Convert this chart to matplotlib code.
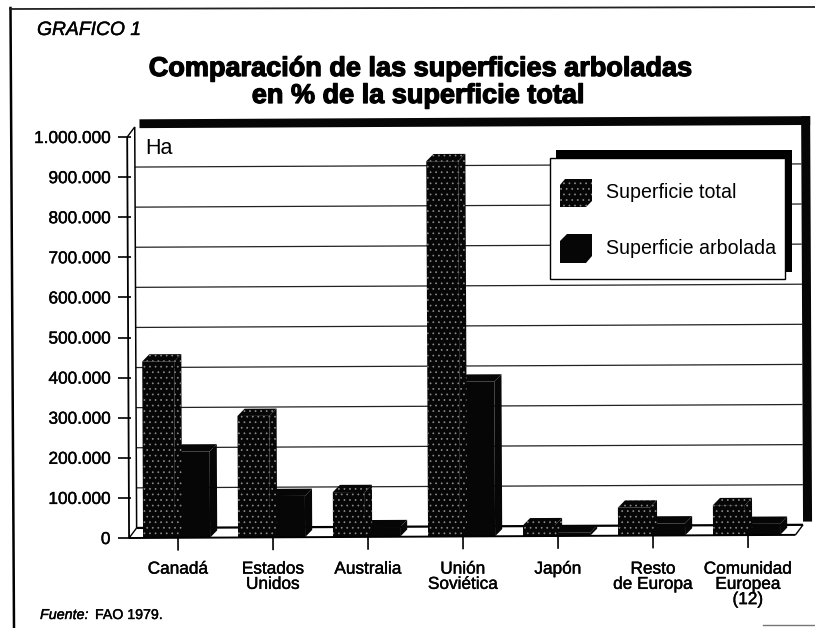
#!/usr/bin/env python3
"""Grafico 1: superficie total y arbolada por region (FAO 1979), barras con falso 3D."""

import matplotlib
matplotlib.use("Agg")
import matplotlib.pyplot as plt
import matplotlib.patheffects as pe
from matplotlib.lines import Line2D
from matplotlib.patches import Polygon, Rectangle
from matplotlib.transforms import Affine2D

plt.rcParams["font.family"] = ["Liberation Sans", "DejaVu Sans"]
plt.rcParams["hatch.linewidth"] = 0.5

categories = ["Canadá", "Estados\nUnidos", "Australia", "Unión\nSoviética",
              "Japón", "Resto\nde Europa", "Comunidad\nEuropea\n(12)"]
total = [440000, 303000, 112000, 936000, 27000, 70000, 75000]
arbolada = [215000, 103000, 24000, 386000, 8000, 30000, 28000]
y_ticks = [0, 100000, 200000, 300000, 400000, 500000,
           600000, 700000, 800000, 900000, 1000000]
y_labels = ["0", "100.000", "200.000", "300.000", "400.000", "500.000",
            "600.000", "700.000", "800.000", "900.000", "1.000.000"]

W, H = 815, 628
fig = plt.figure(figsize=(W / 100, H / 100), dpi=100, facecolor="white")
# pixel coords of the scan, origin top left
px = Affine2D().scale(1 / W, -1 / H).translate(0, 1) + fig.transFigure

ax = fig.add_axes([130.5 / W, (H - 538) / H, 665 / W, 401 / H])
ax.set_xlim(-0.5, 6.5)
ax.set_ylim(0, 1000000)
ax.patch.set_visible(False)

# the page was scanned slightly crooked
tilted = ax.transData + Affine2D().rotate_deg_around(130.5, H - 538, 0.27)

# depth of walls and bars, in data units
wall_dx, wall_dy = 0.08, 25000
bar_dx, bar_dy = 0.075, 18000
x0, x1 = -0.515, 6.5


def line(xs, ys, lw=1.0, color="black", z=2):
    ax.plot(xs, ys, color=color, lw=lw, zorder=z, clip_on=False, transform=tilted, solid_capstyle="butt")


def poly(pts, hatch=None, z=4):
    ax.add_patch(Polygon(pts, closed=True, facecolor="#060606", edgecolor="#8c8c8c" if hatch else "#060606",
                         hatch=hatch, lw=0, zorder=z, clip_on=False, transform=tilted))


def bar3d(x, w, v, hatch=None):
    poly([(x, 0), (x + w, 0), (x + w, v), (x, v)], hatch)
    poly([(x + w, 0), (x + w + bar_dx, bar_dy), (x + w + bar_dx, v + bar_dy), (x + w, v)], hatch)
    poly([(x, v), (x + bar_dx, v + bar_dy), (x + w + bar_dx, v + bar_dy), (x + w, v)], hatch)


# back wall grid
for v in y_ticks[1:-1]:
    line([x0 + wall_dx, x1 + wall_dx], [v + wall_dy, v + wall_dy], lw=0.9, color="#222222", z=1)
line([x0 + wall_dx, x1 + wall_dx], [wall_dy, wall_dy], lw=1.6, z=1)
line([x0 + wall_dx, x0 + wall_dx], [wall_dy, 1000000 + wall_dy], lw=1.1)
line([x0, x0 + wall_dx], [0, wall_dy])
line([x1, x1 + wall_dx], [0, wall_dy])
line([x0, x0 + wall_dx], [1000000, 1000000 + wall_dy])

# axes drawn by hand so they follow the tilt
line([x0, x0], [0, 1000000], lw=1.3, z=5)
line([x0, x1], [0, 0], lw=1.4, z=5)
for i in range(len(categories)):
    line([i, i], [0, -32000], lw=1.2, z=5)

# heavy shadow along top and right of the wall
sh_x = x1 + wall_dx + 0.095
sh_y0 = 1000000 + wall_dy - 3000
sh_y = 1000000 + wall_dy + 19000
poly([(x0 + wall_dx + 0.05, sh_y0), (sh_x, sh_y0), (sh_x, sh_y), (x0 + wall_dx + 0.05, sh_y)], z=3)
poly([(x1 + wall_dx, wall_dy + 8000), (sh_x, wall_dy + 8000), (sh_x, sh_y), (x1 + wall_dx, sh_y)], z=3)

for i, (t, a) in enumerate(zip(total, arbolada)):
    bar3d(i - 0.03, 0.368, a)
    bar3d(i - 0.368, 0.337, t, hatch="...")

for s in ax.spines.values():
    s.set_visible(False)

ax.set_xticks(range(len(categories)))
ax.set_xticklabels(categories, fontsize=12.4, linespacing=1.02)
ax.set_yticks(y_ticks)
ax.set_yticklabels(y_labels, fontsize=12.4)
ax.tick_params(axis="x", length=0, pad=17)
ax.tick_params(axis="y", length=9.5, width=1.2, pad=5)
ink = [pe.withStroke(linewidth=0.3, foreground="black")]
for lab in ax.get_xticklabels() + ax.get_yticklabels():
    lab.set_path_effects(ink)

fig.text(145, 154, "Ha", transform=px, fontsize=15.5, va="baseline", ha="left")

# titles
fig.text(37, 35, "GRAFICO 1", transform=px, fontsize=13.9, style="italic", va="baseline", ha="left", path_effects=ink)
heavy = [pe.withStroke(linewidth=0.9, foreground="black")]
fig.text(420, 76, "Comparación de las superficies arboladas", transform=px, fontsize=19.5,
         weight="bold", va="baseline", ha="center", path_effects=heavy)
fig.text(418, 103, "en % de la superficie total", transform=px, fontsize=19.5,
         weight="bold", va="baseline", ha="center", path_effects=heavy)
fig.text(40, 619, "Fuente:", transform=px, fontsize=10.3, style="italic", va="baseline", ha="left", path_effects=ink)
fig.text(95, 619, "FAO 1979.", transform=px, fontsize=10.2, va="baseline", ha="left", path_effects=ink)

# legend box with its shadow
fig.add_artist(Rectangle((556, 150), 236, 122, transform=px, facecolor="black", lw=0, zorder=6))
fig.add_artist(Rectangle((550, 158), 235, 121, transform=px, facecolor="white", edgecolor="black", lw=1.0, zorder=7))
fig.add_artist(Polygon([(565, 179), (592, 179), (592, 201), (586, 207), (560, 207), (560, 185)], transform=px,
                       closed=True, facecolor="#060606", edgecolor="#8c8c8c", hatch="...", lw=0, zorder=8))
fig.add_artist(Polygon([(567, 234), (592, 234), (592, 256), (586, 263), (560, 263), (560, 241)], transform=px,
                       closed=True, facecolor="#060606", lw=0, zorder=8))
fig.text(606, 193, "Superficie total", transform=px, fontsize=14.1, va="center", ha="left", zorder=9)
fig.text(606, 249, "Superficie arbolada", transform=px, fontsize=14.1, va="center", ha="left", zorder=9)

# page frame of the scan
fig.add_artist(Line2D([10.5, 14], [8, 628], transform=px, color="black", lw=1.8))
fig.add_artist(Line2D([10, 815], [9, 7], transform=px, color="#222222", lw=1.3))
fig.add_artist(Line2D([763, 815], [625, 625], transform=px, color="#777777", lw=1.0))

fig.savefig("out.png", dpi=100)
